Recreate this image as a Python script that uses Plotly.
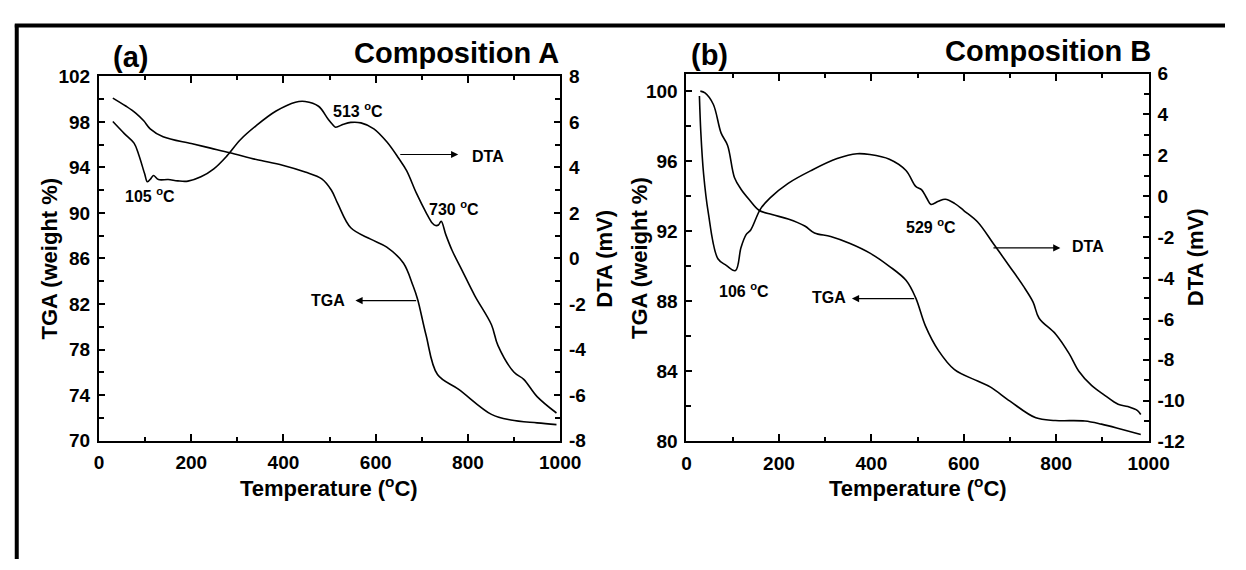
import plotly.graph_objects as go

# ---- Composition A ----
temp_a_tga = [30, 58, 79, 97, 111, 139, 200, 242, 284, 341, 398, 447, 483, 504, 518,
              546, 589, 624, 660, 681, 691, 709, 734, 780, 851, 893, 950, 992]
tga_a = [100.1, 99.4, 98.8, 98.1, 97.4, 96.7, 96.1, 95.7, 95.3, 94.7, 94.2, 93.6, 93.0, 92.0, 90.8,
         88.7, 87.7, 87.0, 85.6, 83.6, 82.4, 79.3, 75.8, 74.5, 72.3, 71.8, 71.55, 71.4]

temp_a_dta = [30, 55, 76, 86, 99, 105, 112, 118, 129, 150, 171, 193, 221, 249, 277, 306, 341,
              384, 426, 447, 476, 497, 506, 513, 530, 546, 568, 596, 624, 649, 667, 688, 709,
              723, 730, 736, 742, 752, 766, 787, 815, 851, 865, 900, 921, 950, 992]
dta_a = [6.02, 5.49, 5.07, 4.57, 3.72, 3.37, 3.5, 3.65, 3.47, 3.47, 3.41, 3.40, 3.59, 3.94, 4.50,
         5.21, 5.84, 6.48, 6.87, 6.90, 6.69, 6.12, 5.9, 5.77, 5.9, 5.98, 5.96, 5.70, 5.13, 4.43,
         3.86, 2.88, 2.03, 1.55, 1.45, 1.47, 1.64, 1.05, 0.34, -0.51, -1.64, -2.91, -3.82, -5.0,
         -5.31, -6.07, -6.79]

# ---- Composition B ----
temp_b_tga = [30, 40, 58, 75, 89, 104, 118, 136, 157, 185, 220, 256, 277, 312, 354, 397, 439,
              475, 496, 517, 545, 580, 630, 658, 700, 756, 798, 862, 898, 941, 983]
tga_b = [100.0, 99.9, 99.25, 97.6, 96.9, 95.05, 94.4, 93.8, 93.2, 92.95, 92.7, 92.3, 91.9, 91.7,
         91.3, 90.75, 90.0, 89.2, 88.2, 86.6, 85.2, 84.1, 83.45, 83.1, 82.3, 81.35, 81.2, 81.17,
         80.99, 80.7, 80.4]

temp_b_dta = [28, 31, 37, 47, 68, 86, 106, 118, 129, 139, 160, 181, 220, 270, 326, 369, 397,
              439, 475, 496, 509, 520, 529, 545, 560, 580, 600, 630, 665, 700, 729, 750, 763,
              799, 828, 849, 877, 905, 934, 955, 976, 983]
dta_b = [4.9, 3.14, 1.1, -0.78, -3.06, -3.38, -3.64, -2.51, -1.88, -1.65, -0.63, -0.08, 0.63,
         1.26, 1.84, 2.08, 2.04, 1.81, 1.26, 0.48, 0.31, -0.1, -0.4, -0.25, -0.15, -0.35, -0.7,
         -1.26, -2.35, -3.46, -4.40, -5.18, -5.97, -6.75, -7.70, -8.56, -9.27, -9.74, -10.18,
         -10.29, -10.49, -10.68]

# ---- tick labels ----
temp_ticks = [0, 200, 400, 600, 800, 1000]
tga_a_ticks = [70, 74, 78, 82, 86, 90, 94, 98, 102]
dta_a_ticks = [-8, -6, -4, -2, 0, 2, 4, 6, 8]
tga_b_ticks = [80, 84, 88, 92, 96, 100]
dta_b_ticks = [-12, -10, -8, -6, -4, -2, 0, 2, 4, 6]

W, H = 1246, 570
FONT = "Liberation Sans"


def px_x(p):
    return p / W


def px_y(p):
    return 1 - p / H


line = dict(color="black", width=1.6)
fig = go.Figure()
fig.add_trace(go.Scatter(x=temp_a_tga, y=tga_a, mode="lines", line=line, line_shape="spline",
                         xaxis="x", yaxis="y"))
fig.add_trace(go.Scatter(x=temp_a_dta, y=dta_a, mode="lines", line=line, line_shape="spline",
                         xaxis="x", yaxis="y2"))
fig.add_trace(go.Scatter(x=temp_b_tga, y=tga_b, mode="lines", line=line, line_shape="spline",
                         xaxis="x2", yaxis="y3"))
fig.add_trace(go.Scatter(x=temp_b_dta, y=dta_b, mode="lines", line=line, line_shape="spline",
                         xaxis="x2", yaxis="y4"))

tickfont = dict(family=FONT, size=19, color="black", weight="bold")


def labels(vals):
    # plain hyphen for negative numbers
    return [str(v) for v in vals]


def xaxis_style(domain, anchor):
    return dict(domain=domain, anchor=anchor, range=[0, 1000],
                tickmode="array", tickvals=temp_ticks, ticktext=labels(temp_ticks),
                ticks="inside", ticklen=7, tickwidth=1.5, tickcolor="black",
                minor=dict(dtick=100, tick0=0, ticks="inside", ticklen=4, tickwidth=1.5,
                           tickcolor="black"),
                showline=True, linewidth=2, linecolor="black", mirror="ticks",
                showgrid=False, zeroline=False, tickfont=tickfont, ticklabelstandoff=4)


def yaxis_style(domain, anchor, rng, vals, minor, side, overlaying=None):
    d = dict(domain=domain, anchor=anchor, range=rng,
             tickmode="array", tickvals=vals, ticktext=labels(vals),
             ticks="inside", ticklen=6, tickwidth=1.5, tickcolor="black",
             minor=dict(dtick=minor, tick0=vals[0], ticks="inside", ticklen=5, tickwidth=1.5,
                        tickcolor="black"),
             showline=True, linewidth=2, linecolor="black", side=side,
             showgrid=False, zeroline=False, tickfont=tickfont, ticklabelstandoff=3)
    if overlaying:
        d["overlaying"] = overlaying
    return d


dom_ax = [px_x(96), px_x(567)]
dom_ay = [px_y(447), px_y(69)]
dom_bx = [px_x(696), px_x(1168)]
dom_by = [px_y(448), px_y(66)]

fig.update_layout(
    width=W, height=H, margin=dict(l=0, r=0, t=0, b=0),
    paper_bgcolor="white", plot_bgcolor="white", showlegend=False,
    xaxis=xaxis_style(dom_ax, "y"),
    yaxis=yaxis_style(dom_ay, "x", [70, 102], tga_a_ticks, 2, "left"),
    yaxis2=yaxis_style(dom_ay, "x", [-8, 8], dta_a_ticks, 1, "right", overlaying="y"),
    xaxis2=xaxis_style(dom_bx, "y3"),
    yaxis3=yaxis_style(dom_by, "x2", [80, 101], tga_b_ticks, 2, "left"),
    yaxis4=yaxis_style(dom_by, "x2", [-12, 6], dta_b_ticks, 1, "right", overlaying="y3"),
)

titlefont = dict(family=FONT, size=22, color="black", weight="bold")
headfont = dict(family=FONT, size=29, color="black", weight="bold")
labelfont = dict(family=FONT, size=16, color="black", weight="bold")

ann = []


def text(x, y, s, font, xanchor="center", angle=0):
    ann.append(dict(x=px_x(x), y=px_y(y), xref="paper", yref="paper", text=s, showarrow=False,
                    font=font, xanchor=xanchor, yanchor="middle", textangle=angle))


# axis titles
text(331, 495, "Temperature (<sup>o</sup>C)", titlefont)
text(932, 495, "Temperature (<sup>o</sup>C)", titlefont)
text(45, 258, "TGA (weight %)", titlefont, angle=-90)
text(612, 258, "DTA (mV)", titlefont, angle=-90)
text(648, 257, "TGA (weight %)", titlefont, angle=-90)
text(1216, 257, "DTA (mV)", titlefont, angle=-90)

# panel headings
text(128, 49, "(a)", headfont)
text(568, 45, "Composition A", headfont, xanchor="right")
text(720, 47, "(b)", headfont)
text(1172, 43, "Composition B", headfont, xanchor="right")

# peak labels
text(148, 192, "105 <sup>o</sup>C", labelfont)
text(361, 104, "513 <sup>o</sup>C", labelfont)
text(459, 206, "730 <sup>o</sup>C", labelfont)
text(755, 291, "106 <sup>o</sup>C", labelfont)
text(946, 224, "529 <sup>o</sup>C", labelfont)

# curve identifiers
text(493, 152, "DTA", labelfont)
text(330, 302, "TGA", labelfont)
text(1106, 246, "DTA", labelfont)
text(842, 299, "TGA", labelfont)

# arrows drawn in data coordinates
arrows = [
    dict(x=779, y=4.57, ax=650, ay=4.57, xref="x", yref="y2", axref="x", ayref="y2"),
    dict(x=556, y=82.3, ax=691, ay=82.3, xref="x", yref="y", axref="x", ayref="y"),
    dict(x=809, y=-2.53, ax=661, ay=-2.53, xref="x2", yref="y4", axref="x2", ayref="y4"),
    dict(x=358, y=88.16, ax=496, ay=88.16, xref="x2", yref="y3", axref="x2", ayref="y3"),
]
for a in arrows:
    a.update(text="", showarrow=True, arrowhead=2, arrowsize=1.2, arrowwidth=1.2,
             arrowcolor="black", standoff=0, startstandoff=0)
    ann.append(a)

fig.update_layout(annotations=ann)

# frame lines along the left and top edges
fig.add_shape(type="line", xref="paper", yref="paper", x0=px_x(12), x1=px_x(12),
              y0=px_y(15), y1=0, line=dict(color="black", width=4))
fig.add_shape(type="line", xref="paper", yref="paper", x0=px_x(10), x1=1,
              y0=px_y(16), y1=px_y(16), line=dict(color="black", width=4))

fig.write_html("out.html")
